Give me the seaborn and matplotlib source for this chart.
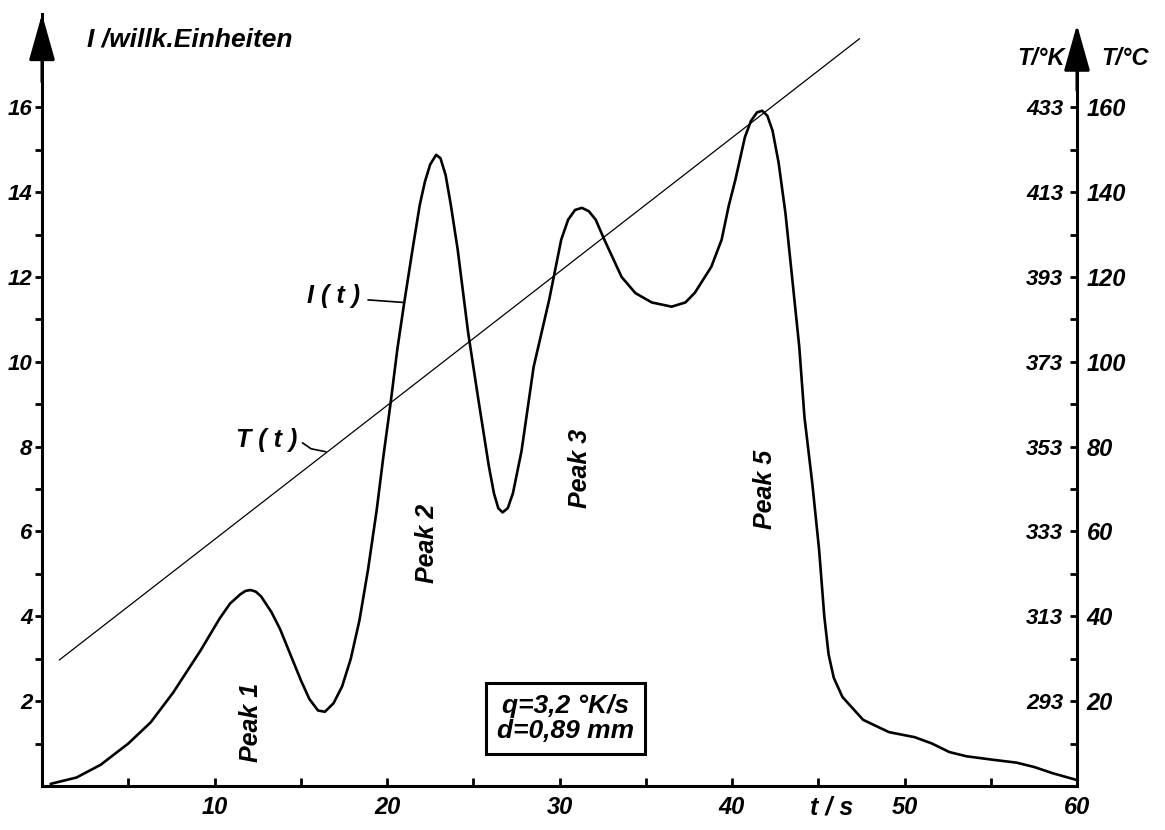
import numpy as np
import pandas as pd
import matplotlib
matplotlib.use("Agg")
import matplotlib.pyplot as plt
import seaborn as sns

# glow curve I(t) (t in s, I in arbitrary units)
t_s = [0.5, 2.0, 3.4, 5.0, 6.3, 7.6, 9.2, 10.3, 10.9, 11.5, 11.8, 12.1, 12.4, 12.7, 13.3,
       13.8, 14.4, 15.0, 15.5, 16.0, 16.4, 16.9, 17.4, 17.9, 18.4, 18.9, 19.4, 19.8,
       20.2, 20.6, 21.0, 21.5, 21.9, 22.2, 22.5, 22.85, 23.1, 23.4, 23.7, 24.1, 24.7,
       25.3, 25.9, 26.2, 26.45, 26.7, 27.0, 27.3, 27.8, 28.5, 29.4, 30.1, 30.5, 30.9,
       31.3, 31.7, 32.1, 32.6, 33.6, 34.4, 35.35, 36.5, 37.3, 37.85, 38.8, 39.4, 39.8,
       40.2, 40.75, 41.1, 41.45, 41.75, 42.05, 42.35, 42.7, 43.1, 43.5, 43.9, 44.2,
       44.65, 45.05, 45.35, 45.6, 45.9, 46.4, 47.6, 49.1, 50.6, 51.6, 52.6, 53.6, 55.1,
       56.5, 57.5, 58.6, 60.0]
intensity = [0.05, 0.2, 0.5, 1.0, 1.5, 2.2, 3.2, 3.95, 4.3, 4.52, 4.6, 4.62, 4.58, 4.47,
             4.1, 3.7, 3.1, 2.5, 2.05, 1.78, 1.75, 1.95, 2.35, 3.0, 3.9, 5.1, 6.5, 7.8,
             9.0, 10.3, 11.4, 12.7, 13.7, 14.25, 14.65, 14.88, 14.8, 14.4, 13.7, 12.64,
             10.7, 9.1, 7.55, 6.9, 6.55, 6.45, 6.55, 6.9, 7.9, 9.88, 11.46, 12.88, 13.35,
             13.58, 13.63, 13.55, 13.35, 12.88, 12.0, 11.62, 11.4, 11.3, 11.4, 11.63,
             12.24, 12.88, 13.66, 14.3, 15.3, 15.68, 15.88, 15.92, 15.8, 15.45, 14.7,
             13.5, 11.93, 10.35, 8.7, 7.15, 5.57, 4.0, 3.1, 2.55, 2.1, 1.56, 1.27, 1.15,
             1.0, 0.8, 0.7, 0.62, 0.55, 0.45, 0.3, 0.14]

# heating ramp T(t) in deg C (end points of the straight line)
t_ramp = [1.0, 47.4]
temp_ramp_c = [29.7, 176.2]

x_ticks = [10, 20, 30, 40, 50, 60]
i_ticks = [2, 4, 6, 8, 10, 12, 14, 16]
temp_c_ticks = [20, 40, 60, 80, 100, 120, 140, 160]
temp_k_labels = ["293", "313", "333", "353", "373", "393", "413", "433"]
peak_names = ["Peak 1", "Peak 2", "Peak 3", "Peak 5"]

sns.set_theme(style="white")
plt.rcParams["font.family"] = ["Liberation Sans", "DejaVu Sans"]
plt.rcParams["font.weight"] = "bold"
plt.rcParams["font.style"] = "italic"
plt.rcParams["text.color"] = "black"
plt.rcParams["xtick.color"] = "black"
plt.rcParams["ytick.color"] = "black"
plt.rcParams["xtick.labelcolor"] = "black"
plt.rcParams["ytick.labelcolor"] = "black"

fig = plt.figure(figsize=(11.65, 8.3), dpi=100)
fig.patch.set_facecolor("white")
ax = fig.add_axes([42 / 1165, 44 / 830, 1035 / 1165, 772 / 830])
ax.set_facecolor("white")

df = pd.DataFrame({"t": t_s, "I": intensity})
sns.lineplot(data=df, x="t", y="I", ax=ax, color="black", linewidth=1.9, estimator=None)

ax.set_xlim(0, 60)
ax.set_ylim(0, 18.2)
ax.set_xlabel("")
ax.set_ylabel("")

# temperature axis (deg C on the right, K just inside)
ax2 = ax.twinx()
ramp = pd.DataFrame({"t": t_ramp, "T": temp_ramp_c})
sns.lineplot(data=ramp, x="t", y="T", ax=ax2, color="black", linewidth=0.9)
ax2.set_ylim(0, 182)
ax2.set_ylabel("")
ax2.set_xlabel("")

ax3 = ax.twinx()
ax3.set_ylim(0, 182)
for s in ax3.spines.values():
    s.set_visible(False)
ax3.set_yticks(temp_c_ticks)
ax3.set_yticklabels(temp_k_labels)
ax3.tick_params(axis="y", length=0, pad=-10, labelsize=16, labelcolor="black")
for lab in ax3.get_yticklabels():
    lab.set_horizontalalignment("right")

# spines
for a in (ax, ax2):
    a.spines["top"].set_visible(False)
ax.spines["right"].set_visible(False)
ax2.spines["left"].set_visible(False)
ax2.spines["bottom"].set_visible(False)
for name in ("left", "bottom"):
    ax.spines[name].set_linewidth(2.2)
    ax.spines[name].set_color("black")
ax2.spines["right"].set_linewidth(2.2)
ax2.spines["right"].set_color("black")
ax2.spines["right"].set_bounds(0, 177)

ax.set_xticks(x_ticks)
ax.set_xticks(range(5, 60, 5), minor=True)
ax.set_yticks(i_ticks)
ax.set_yticks(range(1, 17, 2), minor=True)
ax.tick_params(axis="x", which="both", direction="in", length=6, width=2, pad=7,
               labelsize=17, bottom=True)
ax.tick_params(axis="y", which="both", direction="out", length=5, width=2, pad=2,
               labelsize=16, left=True)
ax2.set_yticks(temp_c_ticks)
ax2.set_yticks(range(10, 160, 20), minor=True)
ax2.tick_params(axis="y", which="both", direction="in", length=5, width=2, pad=7,
                labelsize=17, right=True)
ax2.tick_params(axis="x", bottom=False, top=False)
ax3.tick_params(axis="x", bottom=False, top=False)

# arrow heads on the vertical axes
arrow = dict(arrowstyle="-|>,head_length=1.6,head_width=0.45", color="black", lw=2.2,
             mutation_scale=18, shrinkA=0, shrinkB=0)
ax.annotate("", xy=(0, 18.2), xytext=(0, 16.6), arrowprops=arrow, annotation_clip=False)
ax.annotate("", xy=(60, 17.95), xytext=(60, 16.4), arrowprops=arrow, annotation_clip=False)

# axis titles
ax.text(2.6, 17.6, "I /willk.Einheiten", fontsize=19, ha="left", va="center")
ax.text(59.3, 17.15, "T/°K", fontsize=17, ha="right", va="center")
ax.text(61.4, 17.15, "T/°C", fontsize=17, ha="left", va="center", clip_on=False)
ax.text(45.8, -0.5, "t / s", fontsize=18, ha="center", va="center")

# curve labels with leader lines
ax.text(16.9, 11.55, "I ( t )", fontsize=18, ha="center", va="center")
ax.plot([18.9, 20.95], [11.46, 11.4], color="black", lw=1.2)
ax.text(13.0, 8.16, "T ( t )", fontsize=18, ha="center", va="center")
ax.plot([15.1, 15.6, 16.45], [8.09, 7.95, 7.88], color="black", lw=1.2)

# peak labels
for name, (px, py) in zip(peak_names, [(12.1, 1.5), (22.3, 5.73), (31.2, 7.48), (41.9, 6.98)]):
    ax.text(px, py, name, fontsize=18, rotation=90, ha="center", va="center")

# parameter box
ax.text(30.35, 1.6, "q=3,2 °K/s\nd=0,89 mm", fontsize=19, ha="center", va="center",
        linespacing=1.05,
        bbox=dict(boxstyle="square,pad=0.42", fc="none", ec="black", lw=2.2))

fig.savefig("out.png", dpi=100)
